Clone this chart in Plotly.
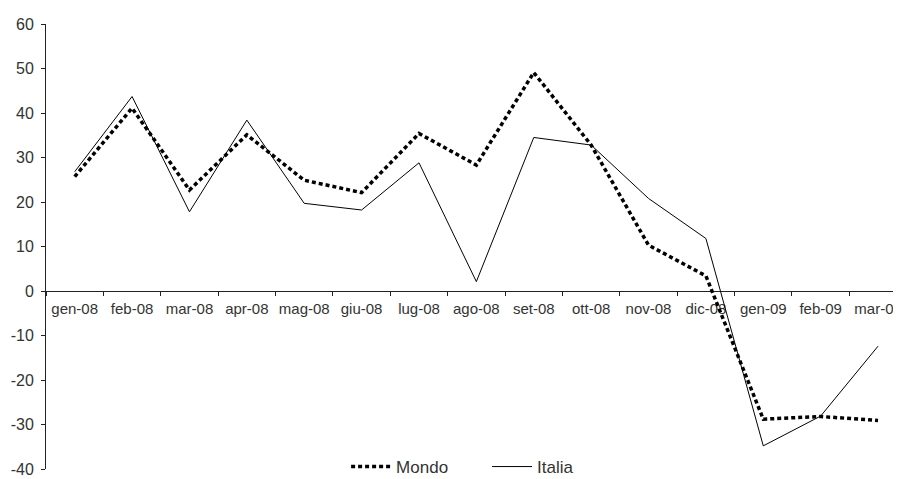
import plotly.graph_objects as go

categories = ["gen-08", "feb-08", "mar-08", "apr-08", "mag-08", "giu-08", "lug-08",
              "ago-08", "set-08", "ott-08", "nov-08", "dic-08", "gen-09", "feb-09", "mar-09"]
mondo = [25.7, 41.1, 22.7, 35.1, 24.9, 22.1, 35.4, 28.3, 49.1, 32.8, 10.3, 3.4, -28.8, -28.2, -29.1]
italia = [26.8, 43.7, 17.8, 38.4, 19.7, 18.2, 28.8, 2.1, 34.5, 32.8, 20.8, 11.8, -34.8, -28.1, -12.4]
y_ticks = [-40, -30, -20, -10, 0, 10, 20, 30, 40, 50, 60]
y_tick_labels = ["-40", "-30", "-20", "-10", "0", "10", "20", "30", "40", "50", "60"]

fig = go.Figure()
fig.add_trace(go.Scatter(x=categories, y=mondo, name="Mondo", mode="lines",
                         line=dict(color="black", width=3.5, dash="4px,3px")))
fig.add_trace(go.Scatter(x=categories, y=italia, name="Italia", mode="lines",
                         line=dict(color="black", width=1)))

# page body has an 8px default margin; figure sized to fit the 901x479 window
fig.update_layout(
    width=893, height=471,
    margin=dict(l=38, r=0, t=16, b=10, autoexpand=False),
    plot_bgcolor="white", paper_bgcolor="white",
    font=dict(family="Liberation Sans, Arial, sans-serif", color="#333333"),
    showlegend=True,
    legend=dict(orientation="h", x=0.351, xanchor="left", y=0.0045, yanchor="middle",
                font=dict(size=17, color="#333333"), bgcolor="rgba(0,0,0,0)",
                itemwidth=40, tracegroupgap=0, entrywidth=86, entrywidthmode="pixels"),
    xaxis=dict(
        type="category", range=[-0.5, 14.4], anchor="free", position=0.4,
        showline=True, linecolor="#222222", linewidth=1,
        ticks="outside", ticklen=4, tickcolor="#222222", tickson="boundaries",
        tickfont=dict(size=15, color="#333333"), tickangle=0,
        showgrid=False, zeroline=False,
        layer="below traces", automargin=False, ticklabelstandoff=4,
    ),
    yaxis=dict(
        range=[-40, 60], tickvals=y_ticks, ticktext=y_tick_labels, domain=[0, 1],
        showline=True, linecolor="#222222", linewidth=1,
        ticks="outside", ticklen=4, tickcolor="#222222",
        tickfont=dict(size=16, color="#333333"), showgrid=False, zeroline=False,
        ticklabelstandoff=4, automargin=False,
    ),
)

fig.write_html("out.html")
